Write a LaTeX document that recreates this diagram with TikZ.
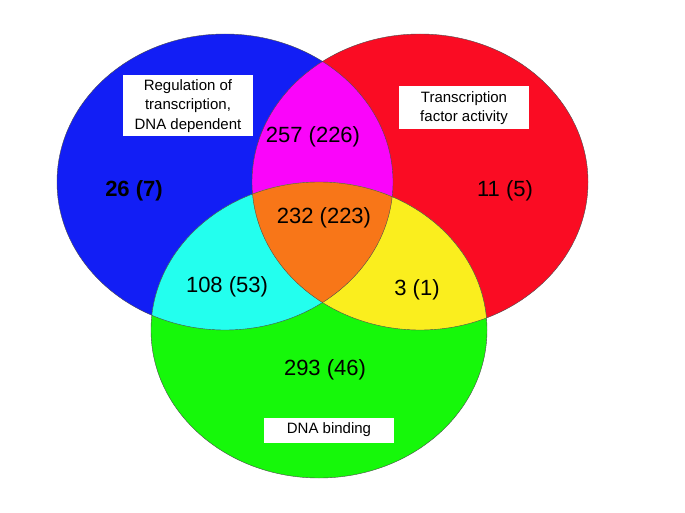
\documentclass[tikz,border=0pt]{standalone}
\usepackage{fontspec}
\setmainfont{Liberation Sans}
\usepackage{tikz}

\definecolor{setblue}{RGB}{18,30,245}
\definecolor{setred}{RGB}{250,12,35}
\definecolor{setgreen}{RGB}{22,248,10}
\definecolor{setmagenta}{RGB}{250,5,250}
\definecolor{setcyan}{RGB}{35,255,238}
\definecolor{setorange}{RGB}{248,118,24}
\definecolor{setyellow}{RGB}{250,238,30}

\begin{document}
\begin{tikzpicture}[x=1pt,y=-1pt,
    count/.style={font=\fontsize{22}{26}\selectfont},
    tag/.style={fill=white,align=center,inner sep=0pt,minimum width=130pt,font=\fontsize{15}{19.5}\selectfont},
    rim/.style={draw=black!70,line width=0.4pt}]
    \useasboundingbox (0,0) rectangle (685,513);
    \def\regset{(225,182) ellipse [x radius=168,y radius=148]}
    \def\tfset{(420,182) ellipse [x radius=168,y radius=148]}
    \def\bindset{(319,330) ellipse [x radius=168,y radius=148]}

    % the three sets
    \fill[setblue] \regset;
    \fill[setred] \tfset;
    \fill[setgreen] \bindset;
    % pairwise and triple overlaps
    \begin{scope} \clip \regset; \fill[setmagenta] \tfset; \end{scope}
    \begin{scope} \clip \regset; \fill[setcyan] \bindset; \end{scope}
    \begin{scope} \clip \tfset; \fill[setyellow] \bindset; \end{scope}
    \begin{scope} \clip \regset; \clip \tfset; \fill[setorange] \bindset; \end{scope}
    \draw[rim] \regset;
    \draw[rim] \tfset;
    \draw[rim] \bindset;

    \node[tag,minimum height=61pt] (regtag) at (188,106) {Regulation of\\transcription,\\DNA dependent};
    \node[tag,minimum height=43pt] (tftag) at (464,108) {Transcription\\factor activity};
    \node[tag,minimum height=25pt] (bindtag) at (329,430) {DNA binding};

    \node[count] (regonly) at (134,191) {\bfseries 26 (7)};
    \node[count] (tfonly) at (505,191) {11 (5)};
    \node[count] (bindonly) at (325,370) {293 (46)};
    \node[count] (regtf) at (313,137) {257 (226)};
    \node[count] (regbind) at (227,287) {108 (53)};
    \node[count] (tfbind) at (417,290) {3 (1)};
    \node[count] (allthree) at (324,218) {232 (223)};
\end{tikzpicture}
\end{document}
